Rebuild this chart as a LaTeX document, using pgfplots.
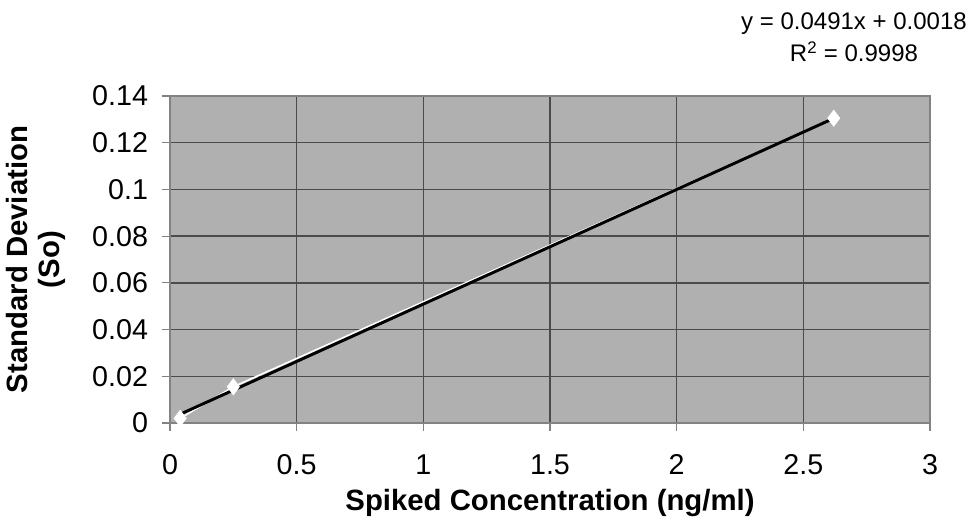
\documentclass[border=0pt]{standalone}
\usepackage{pgfplots}
\pgfplotsset{compat=1.18}
\usepackage{fontspec}
\setmainfont{Liberation Sans}
\definecolor{plotbg}{RGB}{176,176,176}
\definecolor{gridc}{RGB}{75,75,75}
\definecolor{axc}{RGB}{130,130,130}

\begin{document}
\begin{tikzpicture}
\useasboundingbox (-127.5pt,-74.25pt) rectangle (600.75pt,317.25pt);
\begin{axis}[
    at={(0,0)}, anchor=south west,
    scale only axis,
    width=570pt, height=245.25pt,
    xmin=0, xmax=3, ymin=0, ymax=0.14,
    xtick={0,0.5,...,3},
    ytick={0,0.02,...,0.14},
    yticklabels={0,0.02,0.04,0.06,0.08,0.1,0.12,0.14},
    xticklabels={0,0.5,1,1.5,2,2.5,3},
    axis background/.style={fill=plotbg},
    grid=major,
    major grid style={gridc, line width=1pt},
    axis line style={axc, line width=0.8pt},
    tick style={axc, line width=0.8pt},
    tick align=outside,
    major tick length=6pt,
    xtick pos=bottom, ytick pos=left,
    tick label style={font=\fontsize{21.5}{24}\selectfont},
    yticklabel style={xshift=-7pt},
    xticklabel style={yshift=-14pt},
    xlabel={\textbf{Spiked Concentration (ng/ml)}},
    ylabel={\textbf{Standard Deviation}\\\textbf{(So)}},
    ylabel style={at={(axis description cs:-0.177,0.5)}, anchor=center,
        align=center, font=\fontsize{22}{24}\selectfont},
    xlabel style={at={(axis description cs:0.5,-0.245)}, anchor=center,
        font=\fontsize{22}{24}\selectfont},
]
% measured points joined by a white line
\addplot[white, line width=1.2pt, mark=diamond*, mark size=5.5pt,
    mark options={fill=white, draw=white}] coordinates {
    (0.04,0.0020) (0.25,0.0155) (2.62,0.1305)
};
% linear trendline y = 0.0491x + 0.0018
\addplot[black, line width=2.2pt] coordinates {
    (0.04,0.00376) (2.62,0.13044)
};
\end{axis}
\node[align=center, font=\fontsize{18}{24}\selectfont] at (513pt,289pt)
    {y = 0.0491x + 0.0018\\R\textsuperscript{2} = 0.9998};
\end{tikzpicture}
\end{document}
